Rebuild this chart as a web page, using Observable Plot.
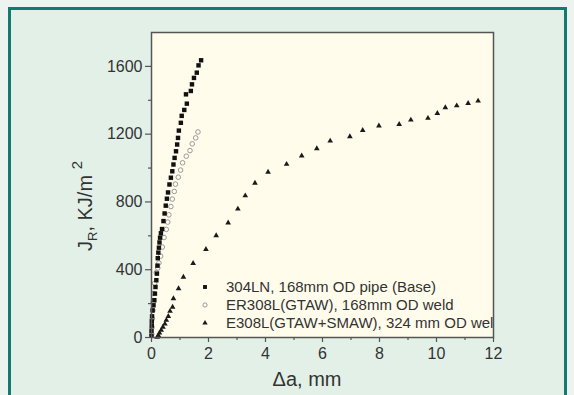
<!DOCTYPE html>
<html>
<head>
<meta charset="utf-8">
<script src="https://cdn.jsdelivr.net/npm/d3@7"></script>
<script src="https://cdn.jsdelivr.net/npm/@observablehq/plot@0.6"></script>
<style>
  html, body { margin: 0; padding: 0; background: #edf4f0; }
  #wrap { position: relative; width: 574px; height: 395px; overflow: hidden; }
  #panel { position: absolute; left: 8px; top: 7px; width: 553px; height: 400px;
           background: #e2f0e8; border: 3px solid #127a6f; border-bottom: none; }
  #chart { position: absolute; left: 0; top: 0; }
</style>
</head>
<body>
<div id="wrap"><div id="panel"></div><div id="chart"></div></div>
<script>
// ---- data ----
const xMajor = [0, 2, 4, 6, 8, 10, 12];
const xMinor = [1, 3, 5, 7, 9, 11];
const yMajor = [0, 400, 800, 1200, 1600];
const yMinor = [200, 600, 1000, 1400];

const seriesNames = [
  "304LN, 168mm OD pipe (Base)",
  "ER308L(GTAW), 168mm OD weld",
  "E308L(GTAW+SMAW), 324 mm OD weld"
];

// 304LN base (squares)
const baseDa = [0.00,0.00,0.01,0.01,0.02,0.04,0.07,0.10,0.12,0.14,0.17,0.19,0.21,0.22,0.24,0.26,0.28,0.30,0.33,0.37,0.42,0.46,0.50,0.54,0.58,0.63,0.68,0.73,0.77,0.81,0.86,0.90,0.93,0.96,1.03,1.06,1.15,1.24,1.21,1.38,1.42,1.49,1.59,1.65,1.74];
const baseJ  = [10,40,70,95,125,160,190,220,259,298,338,377,424,468,501,530,561,589,615,640,687,732,778,819,856,903,943,981,1021,1060,1099,1139,1178,1221,1267,1308,1343,1380,1435,1455,1494,1532,1563,1606,1636];

// ER308L GTAW weld (open circles)
const gtawDa = [0.01,0.02,0.03,0.05,0.06,0.08,0.11,0.17,0.22,0.26,0.32,0.38,0.44,0.52,0.57,0.61,0.68,0.73,0.80,0.84,0.94,1.02,1.09,1.22,1.35,1.43,1.55,1.63];
const gtawJ  = [20,60,110,160,210,260,320,383,410,440,480,534,590,638,681,724,773,817,862,905,946,988,1031,1070,1103,1143,1178,1213];

// E308L GTAW+SMAW weld (triangles)
const smawDa = [0.20,0.24,0.28,0.34,0.40,0.47,0.52,0.59,0.65,0.74,0.77,0.95,1.12,1.46,1.91,2.27,2.69,3.03,3.29,3.63,4.09,4.74,5.27,5.80,6.27,6.96,7.41,7.98,8.69,9.10,9.70,10.03,10.31,10.71,11.11,11.46];
const smawJ  = [2,12,27,43,62,80,102,125,155,180,230,289,357,438,520,602,677,759,837,911,976,1023,1072,1115,1160,1186,1223,1249,1258,1284,1294,1323,1357,1368,1382,1396];

const base = baseDa.map((d, i) => ({da: d, j: baseJ[i]}));
const gtaw = gtawDa.map((d, i) => ({da: d, j: gtawJ[i]}));
const smaw = smawDa.map((d, i) => ({da: d, j: smawJ[i]}));

const FONT = "'Liberation Sans', Arial, sans-serif";
const fmt = d => String(d);

const chart = Plot.plot({
  width: 574, height: 395,
  marginLeft: 151, marginRight: 81, marginTop: 32, marginBottom: 58,
  style: {background: "transparent", fontFamily: FONT, color: "#333", overflow: "visible"},
  x: {domain: [0, 12], axis: null},
  y: {domain: [0, 1800], axis: null},
  marks: [
    Plot.frame({fill: "#fffcec", stroke: null}),
    Plot.dot(gtaw, {x: "da", y: "j", r: 2.3, stroke: "#9a9a9a", fill: "none", strokeWidth: 1}),
    Plot.dot(base, {x: "da", y: "j", symbol: "square", r: 2.5, fill: "#111", stroke: null}),
    Plot.dot(smaw, {x: "da", y: "j", symbol: "triangle", r: 2.1, fill: "#1a1a1a", stroke: null}),
    Plot.frame({stroke: "#555", strokeWidth: 1.5}),
    Plot.axisX(xMajor, {tickSize: 5, tickPadding: 5, fontSize: 16, tickFormat: fmt, label: null, stroke: "#555", strokeWidth: 1.2}),
    Plot.axisX(xMinor, {tickSize: 3, tickFormat: () => "", label: null, stroke: "#555", strokeWidth: 1.2}),
    Plot.axisY(yMajor, {tickSize: 6, tickPadding: 3, fontSize: 16, tickFormat: fmt, label: null, stroke: "#555", strokeWidth: 1.2}),
    Plot.axisY(yMinor, {tickSize: 3, tickFormat: () => "", label: null, stroke: "#555", strokeWidth: 1.2})
  ]
});
document.getElementById("chart").appendChild(chart);

const svg = d3.select(chart);
const xs = chart.scale("x"), ys = chart.scale("y");
const pLeft = xs.apply(0), pRight = xs.apply(12), pTop = ys.apply(1800), pBottom = ys.apply(0);

// x axis title
svg.append("text")
  .attr("x", 307).attr("y", 386)
  .attr("text-anchor", "middle")
  .attr("font-family", FONT).attr("font-size", 20).attr("fill", "#333")
  .text("\u0394a, mm");

// y axis title with subscript / superscript
const yt = svg.append("text")
  .attr("transform", "translate(92,206) rotate(-90)")
  .attr("text-anchor", "middle")
  .attr("font-family", FONT).attr("font-size", 20).attr("fill", "#333");
yt.append("tspan").text("J");
yt.append("tspan").attr("font-size", 13).attr("dy", 5).text("R");
yt.append("tspan").attr("dy", -5).text(", KJ/m ");
yt.append("tspan").attr("font-size", 15).attr("dy", -10).text("2");

// legend (clipped at the plot frame)
svg.append("defs").append("clipPath").attr("id", "plotclip")
  .append("rect").attr("x", pLeft).attr("y", pTop).attr("width", pRight - pLeft).attr("height", pBottom - pTop);
const lg = svg.append("g").attr("clip-path", "url(#plotclip)");
const rows = [287, 305, 323];
const symX = 205, textX = 226;
const area = r => Math.PI * r * r;
lg.append("path").attr("transform", `translate(${symX},${rows[0]})`)
  .attr("d", d3.symbol(d3.symbolSquare, area(2.2))()).attr("fill", "#111");
lg.append("circle").attr("cx", symX).attr("cy", rows[1]).attr("r", 2.1)
  .attr("fill", "none").attr("stroke", "#9a9a9a");
lg.append("path").attr("transform", `translate(${symX},${rows[2]})`)
  .attr("d", d3.symbol(d3.symbolTriangle, area(2.0))()).attr("fill", "#1a1a1a");
seriesNames.forEach((s, i) => {
  lg.append("text").attr("x", textX).attr("y", rows[i]).attr("dy", "0.35em")
    .attr("text-anchor", "start")
    .attr("font-family", FONT).attr("font-size", 15).attr("fill", "#333").text(s);
});
</script>
</body>
</html>
